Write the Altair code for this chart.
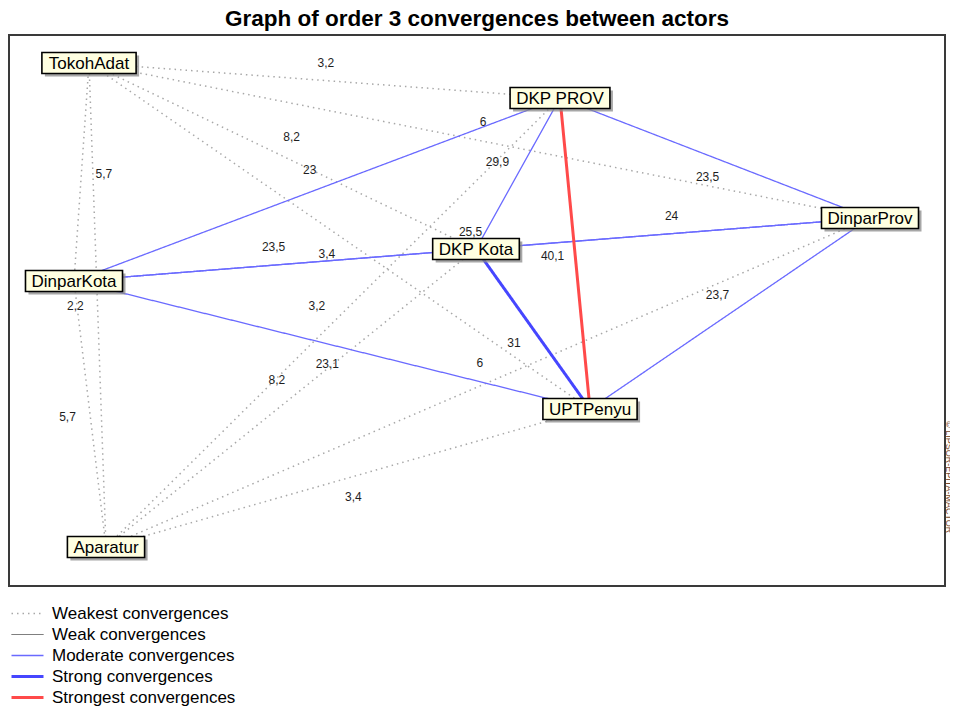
import math
import altair as alt
import pandas as pd

# ---------------- data ----------------
# actors and their layout coordinates (graph layout units)
node_names = ["TokohAdat", "DKP PROV", "DinparProv", "DKP Kota", "DinparKota", "UPTPenyu", "Aparatur"]
node_x = [80, 551, 861, 467, 65, 581, 97]
node_y = [28, 63, 183, 214, 246, 374, 512]

# convergence links (order 3)
edge_from = ["DKP PROV", "DinparProv", "DKP Kota", "DinparKota", "TokohAdat", "TokohAdat",
             "DKP PROV", "DinparProv", "DKP Kota", "DinparKota", "Aparatur",
             "DKP PROV", "DKP PROV", "DKP PROV", "DinparProv", "DinparProv", "DinparProv",
             "DKP Kota", "DinparKota", "DKP Kota", "DKP PROV"]
edge_to = ["TokohAdat", "TokohAdat", "TokohAdat", "TokohAdat", "Aparatur", "UPTPenyu",
           "Aparatur", "Aparatur", "Aparatur", "Aparatur", "UPTPenyu",
           "DinparProv", "DKP Kota", "DinparKota", "DKP Kota", "DinparKota", "UPTPenyu",
           "DinparKota", "UPTPenyu", "UPTPenyu", "UPTPenyu"]
edge_value = [3.2, 6, 8.2, 5.7, 2.2, 3.4,
              3.2, 6, 8.2, 5.7, 3.4,
              23.5, 29.9, 23, 24, 25.5, 23.7,
              23.5, 23.1, 31, 40.1]
edge_class = ["Weakest convergences"] * 11 + ["Moderate convergences"] * 8 + \
             ["Strong convergences", "Strongest convergences"]

legend_labels = ["Weakest convergences", "Weak convergences", "Moderate convergences",
                 "Strong convergences", "Strongest convergences"]

title_text = "Graph of order 3 convergences between actors"
watermark = "© LIPSOR-EPITA-MACTOR"

# ---------------- styles ----------------
class_colors = ["#a8a8a8", "#555555", "#6a6aff", "#4646ff", "#ff4a4a"]
class_dash = [[1.5, 4], [1, 0], [1, 0], [1, 0], [1, 0]]
class_width = [1.5, 1.0, 1.3, 3.0, 3.0]
FONT = "Liberation Sans"
NODE_FS = 17
PLOT_W, PLOT_H = 936, 551
# Arial advance widths (1/1000 em) used to size the label boxes
ARIAL = {"T": 611, "o": 556, "k": 500, "h": 556, "A": 667, "d": 556, "a": 556, "t": 278,
         "D": 722, "K": 667, "P": 667, " ": 278, "R": 722, "O": 778, "V": 667, "i": 222,
         "n": 556, "r": 333, "p": 556, "v": 500, "U": 722, "e": 556, "y": 500, "u": 556}

pos = {n: (x, y) for n, x, y in zip(node_names, node_x, node_y)}

# ---------------- tables ----------------
rows = []
for a, b, v, c in zip(edge_from, edge_to, edge_value, edge_class):
    (xa, ya), (xb, yb) = pos[a], pos[b]
    dx, dy = xb - xa, yb - ya
    L = math.hypot(dx, dy)
    nx, ny = -dy / L, dx / L
    k = 11 + 11 * abs(nx) + 6 * abs(ny)
    rows.append(dict(x1=xa, y1=ya, x2=xb, y2=yb, cls=c,
                     lx=(xa + xb) / 2 + k * nx, ly=(ya + yb) / 2 + k * ny,
                     lab=f"{v:g}".replace(".", ",")))
edges = pd.DataFrame(rows)

nrows = []
for n in node_names:
    w = sum(ARIAL.get(ch, 556) for ch in n) * NODE_FS / 1000 + 12
    x, y = pos[n]
    nrows.append(dict(name=n, x=x, y=y, bx1=x - w / 2, bx2=x + w / 2, by1=y - 10.5, by2=y + 10.5,
                      sx1=x - w / 2 + 3, sx2=x + w / 2 + 3, sy1=y - 7.5, sy2=y + 13.5))
nodes = pd.DataFrame(nrows)

xs = alt.Scale(domain=[0, PLOT_W], nice=False, zero=False)
ys = alt.Scale(domain=[0, PLOT_H], nice=False, zero=False, reverse=True)

leg = alt.Legend(title=None, orient="none", legendX=1, legendY=569, symbolType="stroke",
                 symbolSize=1024, labelFont=FONT, labelFontSize=17, labelColor="#000000",
                 labelOffset=7, rowPadding=2, clipHeight=19, symbolOffset=0, labelLimit=400)

edge_layer = alt.Chart(edges).mark_rule(strokeCap="butt").encode(
    x=alt.X("x1:Q", scale=xs, axis=None),
    y=alt.Y("y1:Q", scale=ys, axis=None),
    x2="x2:Q",
    y2="y2:Q",
    color=alt.Color("cls:N", scale=alt.Scale(domain=legend_labels, range=class_colors), legend=leg),
    strokeDash=alt.StrokeDash("cls:N", scale=alt.Scale(domain=legend_labels, range=class_dash), legend=leg),
    strokeWidth=alt.StrokeWidth("cls:N", scale=alt.Scale(type="ordinal", domain=legend_labels, range=class_width), legend=leg),
)

label_layer = alt.Chart(edges).mark_text(font=FONT, fontSize=12, color="#1e1e1e",
                                         align="center", baseline="middle").encode(
    x=alt.X("lx:Q", scale=xs), y=alt.Y("ly:Q", scale=ys), text="lab:N")

shadow_layer = alt.Chart(nodes).mark_rect(color="#8a8a8a", opacity=0.75).encode(
    x=alt.X("sx1:Q", scale=xs), x2="sx2:Q", y=alt.Y("sy1:Q", scale=ys), y2="sy2:Q")

box_layer = alt.Chart(nodes).mark_rect(fill="#FFFFE1", stroke="#000000", strokeWidth=1.6).encode(
    x=alt.X("bx1:Q", scale=xs), x2="bx2:Q", y=alt.Y("by1:Q", scale=ys), y2="by2:Q")

text_layer = alt.Chart(nodes).mark_text(font=FONT, fontSize=NODE_FS, color="#000000",
                                        align="center", baseline="middle", dy=1).encode(
    x=alt.X("x:Q", scale=xs), y=alt.Y("y:Q", scale=ys), text="name:N")

wm_layer = alt.Chart(pd.DataFrame({"t": [watermark]})).mark_text(
    font=FONT, fontSize=9, color="#7a4a2a", angle=90, align="left", baseline="middle").encode(
    x=alt.value(PLOT_W + 3.5), y=alt.value(386), text="t:N")

chart = alt.layer(edge_layer, label_layer, shadow_layer, box_layer, text_layer, wm_layer).properties(
    width=PLOT_W, height=PLOT_H,
    title=alt.TitleParams(title_text, font=FONT, fontSize=22.5, fontWeight="bold", color="#000000",
                          anchor="middle", offset=5),
    padding={"left": 1, "top": 27, "right": 5, "bottom": 120},
    autosize=alt.AutoSizeParams(type="none"),
).configure_view(stroke="#3a3a3a", strokeWidth=2)

chart.save("out.html", embed_options={"renderer": "svg", "actions": False})
